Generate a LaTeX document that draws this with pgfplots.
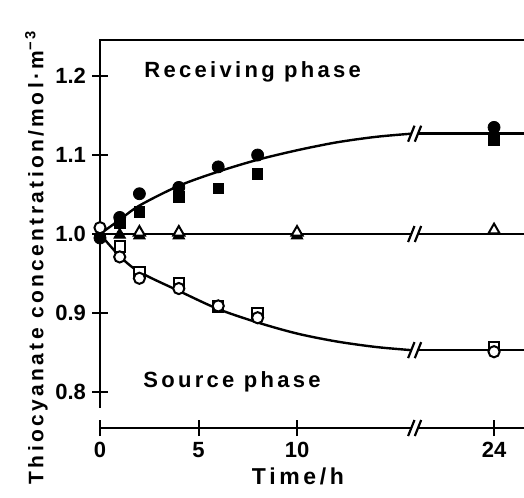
\documentclass[border=0pt]{standalone}
\usepackage{fontspec}
\setmainfont{Liberation Sans}
\newfontfamily\spacedbold[LetterSpace=15]{Liberation Sans Bold}
\newfontfamily\lblbold[LetterSpace=16]{Liberation Sans Bold}
\usepackage{pgfplots}
\pgfplotsset{compat=1.18}
\usetikzlibrary{calc}

\begin{document}
\begin{tikzpicture}
\begin{axis}[
    name=ax,
    scale only axis,
    width=212pt, height=194pt,
    xmin=0, xmax=21.52,
    ymin=0.7544, ymax=1.2456,
    clip=false,
    axis x line*=bottom,
    axis y line*=left,
    axis line style={draw=none},
    xtick={0,5,10,20},
    xticklabels={0,5,10,24},
    ytick={0.8,0.9,1.0,1.1,1.2},
    tick align=center,
    major tick length=8pt,
    tick style={line width=1pt, black},
    /pgf/number format/.cd, fixed, fixed zerofill, precision=1, assume math mode=true,
    /pgfplots/.cd,
    tick label style={font=\bfseries\fontsize{11}{13}\selectfont},
    yticklabel style={xshift=0.5pt},
    xticklabel style={yshift=0.5pt},
    xlabel={Time/h},
    xlabel style={at={(axis description cs:0.467,-0.125)}, anchor=center,
        font=\lblbold\fontsize{11.5}{13}\selectfont},
    ylabel={Thiocyanate concentration/mol\,·\,m\textsuperscript{−3}},
    ylabel style={at={(axis description cs:-0.15,0.44)}, anchor=center,
        font=\lblbold\fontsize{10.5}{12}\selectfont},
]
\coordinate (sw) at (rel axis cs:0,0);
\coordinate (ne) at (rel axis cs:1,1);

% axis frame
\draw[line width=1pt] (axis cs:0,0.780) -- (axis cs:0,1.2456) -- (axis cs:21.52,1.2456);
\draw[line width=1pt] ($(axis cs:0,0.780)+(-4pt,0)$) -- ($(axis cs:0,0.780)+(4pt,0)$);
\draw[line width=1pt] (axis cs:0,0.7544) -- (axis cs:15.8,0.7544);
\draw[line width=1pt] (axis cs:16.14,0.7544) -- (axis cs:21.52,0.7544);

% fitted curves
\addplot[smooth, line width=1.2pt, black] coordinates {
  (0,1.0) (1,1.018) (2,1.036) (4,1.061) (6,1.079) (8,1.094)
  (10,1.106) (12,1.116) (14,1.123) (15.8,1.127)};
\addplot[line width=1.2pt, black] coordinates {(16.14,1.127) (21.52,1.127)};

\addplot[line width=1.2pt, black] coordinates {(0,1.0) (15.8,1.0)};
\addplot[line width=1.2pt, black] coordinates {(16.14,1.0) (21.52,1.0)};

\addplot[smooth, line width=1.2pt, black] coordinates {
  (0,1.0) (1,0.972) (2,0.952) (4,0.928) (6,0.905) (8,0.888)
  (10,0.874) (12,0.864) (14,0.857) (15.8,0.853)};
\addplot[line width=1.2pt, black] coordinates {(16.14,0.853) (21.52,0.853)};

% break marks
\draw[line width=1.1pt] ($(axis cs:15.8,1.127)+(-1.6pt,-4pt)$) -- ++(3.2pt,8pt);
\draw[line width=1.1pt] ($(axis cs:16.14,1.127)+(-1.6pt,-4pt)$) -- ++(3.2pt,8pt);
\draw[line width=1.1pt] ($(axis cs:15.8,1.0)+(-1.6pt,-4pt)$) -- ++(3.2pt,8pt);
\draw[line width=1.1pt] ($(axis cs:16.14,1.0)+(-1.6pt,-4pt)$) -- ++(3.2pt,8pt);
\draw[line width=1.1pt] ($(axis cs:15.8,0.853)+(-1.6pt,-4pt)$) -- ++(3.2pt,8pt);
\draw[line width=1.1pt] ($(axis cs:16.14,0.853)+(-1.6pt,-4pt)$) -- ++(3.2pt,8pt);
\draw[line width=1.1pt] ($(axis cs:15.8,0.7544)+(-1.6pt,-4pt)$) -- ++(3.2pt,8pt);
\draw[line width=1.1pt] ($(axis cs:16.14,0.7544)+(-1.6pt,-4pt)$) -- ++(3.2pt,8pt);

% receiving phase: filled circles and squares
\addplot[only marks, mark=square*, mark size=2.6pt, black] coordinates {
  (1,1.014) (2,1.028) (4,1.047) (6,1.058) (8,1.076) (20,1.119)};
\addplot[only marks, mark=*, mark size=3pt, black] coordinates {
  (0,0.995) (1,1.021) (2,1.051) (4,1.059) (6,1.085) (8,1.100) (20,1.135)};

% triangles
\addplot[only marks, mark=triangle*, mark size=3.4pt, black] coordinates {
  (1,0.999) (2,0.998) (4,0.998) (10,0.998)};
\addplot[only marks, mark=triangle*, mark size=3.2pt, black,
  mark options={fill=white, line width=1pt}] coordinates {
  (2,1.002) (4,1.002) (10,1.002) (20,1.005)};

% source phase: open squares and circles
\addplot[only marks, mark=square*, mark size=2.6pt, black,
  mark options={fill=white, line width=1pt}] coordinates {
  (1,0.984) (2,0.952) (4,0.938) (6,0.908) (8,0.900) (20,0.857)};
\addplot[only marks, mark=*, mark size=2.8pt, black,
  mark options={fill=white, line width=1pt}] coordinates {
  (0,1.008) (1,0.971) (2,0.944) (4,0.931) (6,0.909) (8,0.894) (20,0.851)};

\node[font=\spacedbold\fontsize{11}{13}\selectfont] at (axis cs:7.75,1.205) {Receiving phase};
\node[font=\spacedbold\fontsize{11}{13}\selectfont] at (axis cs:6.7,0.8127) {Source phase};
\end{axis}
\pgfresetboundingbox
\path[use as bounding box] ($(sw)+(-50pt,-34.5pt)$) rectangle ($(ne)+(0,20pt)$);
\end{tikzpicture}
\end{document}
